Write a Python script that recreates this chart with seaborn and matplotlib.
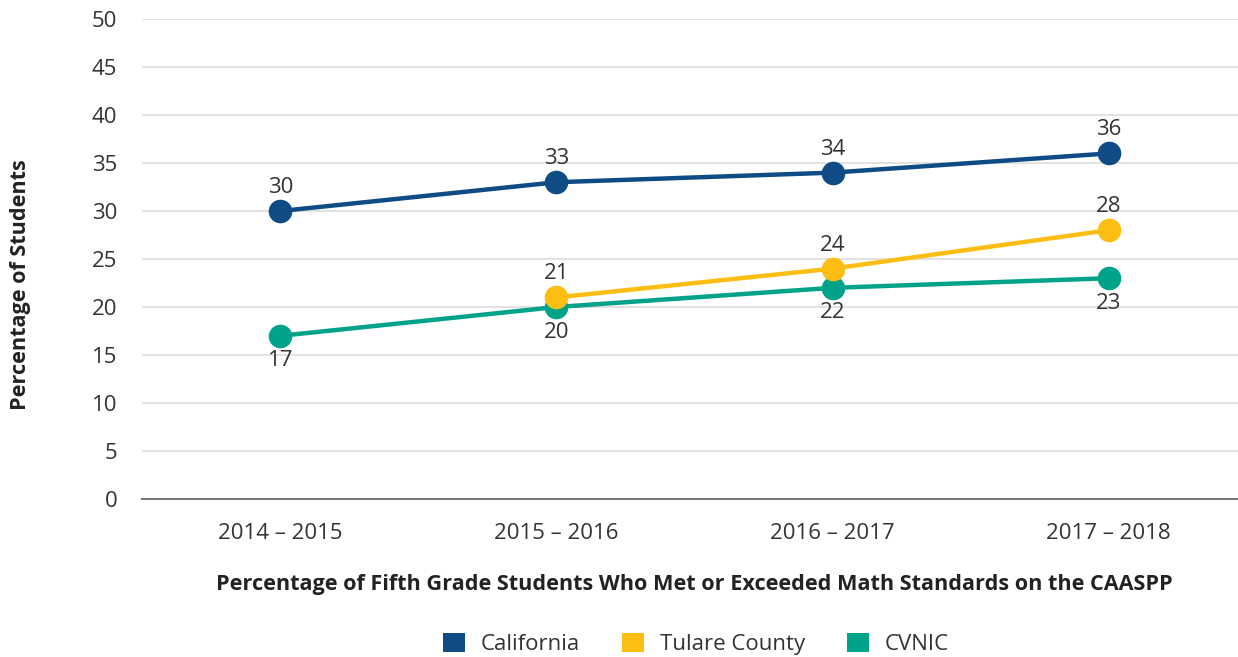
import pandas as pd
import numpy as np
import matplotlib.pyplot as plt
import seaborn as sns
from matplotlib.patches import Patch

years = ['2014 – 2015', '2015 – 2016', '2016 – 2017', '2017 – 2018']
california = [30, 33, 34, 36]
tulare = [np.nan, 21, 24, 28]
cvnic = [17, 20, 22, 23]

SERIES = ['California', 'Tulare County', 'CVNIC']
COLORS = {'California': '#0F4C85', 'Tulare County': '#FDBE14', 'CVNIC': '#00A38A'}
TEXT_COLOR = '#333333'

df = pd.DataFrame({
    'year': years * 3,
    'series': ['California'] * 4 + ['Tulare County'] * 4 + ['CVNIC'] * 4,
    'value': california + tulare + cvnic,
})
df['x'] = df.groupby('series').cumcount()

sns.set_style('white')
plt.rcParams['font.family'] = ['Open Sans', 'DejaVu Sans']

fig = plt.figure(figsize=(12.38, 6.57), dpi=100)
ax = fig.add_axes([0.115, 0.2405, 0.892, 0.7305])

# draw CVNIC first so Tulare sits on top, California last
for name in ['CVNIC', 'Tulare County', 'California']:
    sub = df[df['series'] == name].dropna()
    sns.lineplot(data=sub, x='x', y='value', color=COLORS[name], ax=ax,
                 linewidth=3.2, marker='o', markersize=17, markeredgewidth=0,
                 legend=False)
    below = name == 'CVNIC'
    for xi, v in zip(sub['x'], sub['value']):
        ax.annotate(f'{int(v)}', (xi, v), xytext=(0, -18 if below else 17),
                    textcoords='offset points', ha='center', va='center',
                    fontsize=16, color=TEXT_COLOR)

ax.set_xlim(-0.5, 3.5)
ax.set_ylim(0, 50)
ax.set_yticks(range(0, 51, 5))
ax.set_xticks(range(len(years)))
ax.set_xticklabels(years)
ax.yaxis.grid(True, color='#dddddd', linewidth=1.2)
ax.set_axisbelow(True)
for s in ['top', 'right', 'left']:
    ax.spines[s].set_visible(False)
ax.spines['bottom'].set_color('#777777')
ax.spines['bottom'].set_linewidth(1.5)
ax.tick_params(axis='both', length=0, labelsize=16, colors=TEXT_COLOR)
ax.tick_params(axis='x', pad=17)
ax.tick_params(axis='y', pad=18)

ax.set_xlabel('Percentage of Fifth Grade Students Who Met or Exceeded Math Standards on the CAASPP',
              fontsize=15.6, fontweight='bold', color='#222222', labelpad=22)
ax.set_ylabel('Percentage of Students', fontsize=15.6, fontweight='bold',
              color='#222222')
ax.yaxis.set_label_coords(-0.101, 0.446)

handles = [Patch(facecolor=COLORS[n], edgecolor='none') for n in SERIES]
fig.legend(handles, SERIES, loc='center', bbox_to_anchor=(0.562, 0.02),
           ncol=3, frameon=False, fontsize=16, handlelength=1.0,
           handleheight=1.0, columnspacing=1.9, handletextpad=0.7,
           labelcolor=TEXT_COLOR)

fig.savefig('out.png', dpi=100)
